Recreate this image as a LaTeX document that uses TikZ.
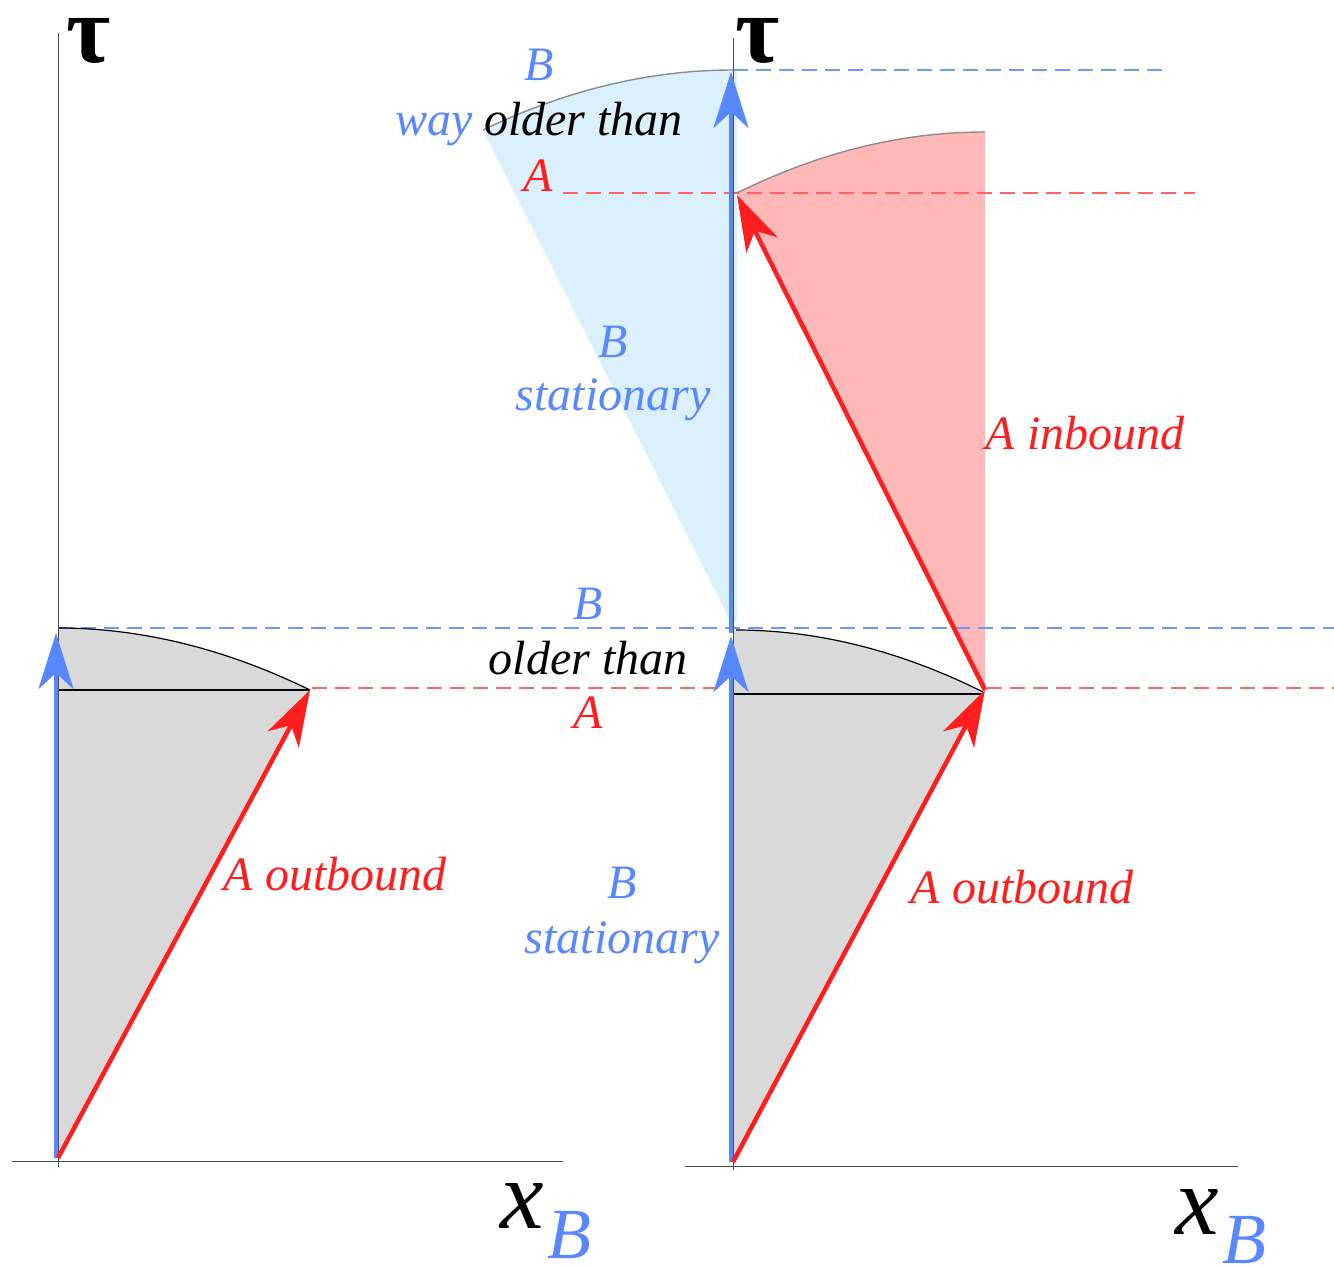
\documentclass[tikz,border=0pt]{standalone}
\usepackage{fontspec}
\setmainfont{Liberation Serif}
\usetikzlibrary{arrows.meta}
\definecolor{bl}{RGB}{88,136,255}
\definecolor{rd}{RGB}{255,30,30}
\definecolor{bldash}{RGB}{110,150,255}
\definecolor{rddash}{RGB}{255,100,100}
\definecolor{grayfill}{RGB}{217,217,217}
\definecolor{lightblue}{RGB}{219,240,253}
\definecolor{pinkfill}{RGB}{255,184,184}
\begin{document}
\begin{tikzpicture}[x=1pt,y=-1pt,
  lbl/.style={font=\fontsize{48}{58}\selectfont\itshape, inner sep=0pt, anchor=base},
  arr/.style={line width=4.5pt, -{Stealth[length=56pt,width=35pt,inset=16pt]}},
  axis/.style={line width=1pt, draw=black!70},
  dash blue/.style={line width=1.2pt, draw=bldash, dash pattern=on 15pt off 8pt},
  dash red/.style={line width=1.2pt, draw=rddash, dash pattern=on 15pt off 8pt},
  arcline/.style={line width=1.2pt, draw=black},
  arcgray/.style={line width=1.4pt, draw=black!45},
  tau/.style={font=\fontsize{96}{100}\selectfont\bfseries, inner sep=0pt, anchor=base west},
  xl/.style={font=\fontsize{98}{100}\selectfont\itshape, inner sep=0pt, anchor=base west},
  xs/.style={font=\fontsize{72}{80}\selectfont\itshape, text=bl, inner sep=0pt, anchor=base west}]
\useasboundingbox (0,0) rectangle (1334,1266);

% ---------- coordinates ----------
% left diagram
\coordinate (LO)  at (58,1158);
\coordinate (LOb) at (56,1158);
\coordinate (LBt) at (56,633);
\coordinate (LAt) at (310,690);
\coordinate (LBtop) at (58,628);
\coordinate (LH) at (58,690);
% right diagram
\coordinate (RO)  at (733,1162);
\coordinate (ROb) at (731,1162);
\coordinate (RBt) at (731,636);
\coordinate (RAt) at (985,690);
\coordinate (RBs) at (731,633);
\coordinate (RBe) at (731,72);
\coordinate (RAe) at (737,195);
\coordinate (RH) at (733,694);
\coordinate (RHe) at (983,694);

% ---------- fills ----------
\fill[lightblue] (731,622) -- (483,130) .. controls (566,90) and (650,70) .. (733,70) -- (737,70) -- (737,622) -- cycle;
\fill[pinkfill] (RAt) -- (737,193) .. controls (820,152) and (902,132) .. (985,132) -- cycle;
\fill[grayfill] (LO) -- (LAt) .. controls (226,649) and (142,628) .. (LBtop) -- cycle;
\fill[grayfill] (RO) -- (983,692) .. controls (901,651) and (818,630) .. (736,630) -- (733,630) -- cycle;

% ---------- dashed guide lines ----------
\draw[dash blue] (733,70) -- (1168,70);
\draw[dash red] (563,193) -- (1195,193);
\draw[dash blue] (LBtop) -- (1334,628);
\draw[dash red] (312,688) -- (720,688);
\draw[dash red] (987,688) -- (1334,688);

% ---------- arcs and horizontal lines ----------
\draw[arcgray] (483,130) .. controls (566,90) and (650,70) .. (733,70);
\draw[arcgray] (737,193) .. controls (820,152) and (902,132) .. (985,132);
\draw[arcline] (LBtop) .. controls (142,628) and (226,649) .. (LAt);
\draw[arcline] (736,630) .. controls (818,630) and (901,651) .. (983,692);
\draw[arcline] (LH) -- (LAt);
\draw[arcline] (RH) -- (RHe);

% ---------- axes ----------
\draw[axis] (58,33) -- (58,1167);
\draw[axis] (12,1161) -- (563,1161);
\draw[axis] (733,38) -- (733,1170);
\draw[axis] (685,1166) -- (1238,1166);

% ---------- arrows ----------
\draw[arr, bl] (LOb) -- (LBt);
\draw[arr, rd] (LO) -- (LAt);
\draw[arr, bl] (ROb) -- (RBt);
\draw[arr, rd] (RO) -- (RAt);
\draw[arr, bl] (RBs) -- (RBe);
\draw[arr, rd] (RAt) -- (RAe);

% ---------- axis labels ----------
\node[tau] (tauL) at (66,62) {τ};
\node[tau] (tauR) at (735,62) {τ};
\node[xl] (xL) at (500,1228) {x};
\node[xs] (xLB) at (547,1258) {B};
\node[xl] (xR) at (1175,1234) {x};
\node[xs] (xRB) at (1222,1263) {B};

% ---------- text labels ----------
\node[lbl, text=bl] (tB) at (539,80) {B};
\node[lbl] (tOlder) at (539,135) {\textcolor{bl}{way} older than};
\node[lbl, text=rd] (tA) at (538,191) {A};
\node[lbl, text=bl] (sB1) at (613,357) {B};
\node[lbl, text=bl] (sS1) at (613,410) {stationary};
\node[lbl, text=rd] (inb) at (1085,449) {A inbound};
\node[lbl, text=bl] (mB) at (588,619) {B};
\node[lbl] (mOlder) at (588,674) {older than};
\node[lbl, text=rd] (mA) at (588,728) {A};
\node[lbl, text=rd] (outL) at (335,890) {A outbound};
\node[lbl, text=rd] (outR) at (1022,903) {A outbound};
\node[lbl, text=bl] (sB2) at (622,898) {B};
\node[lbl, text=bl] (sS2) at (622,953) {stationary};
\end{tikzpicture}
\end{document}
